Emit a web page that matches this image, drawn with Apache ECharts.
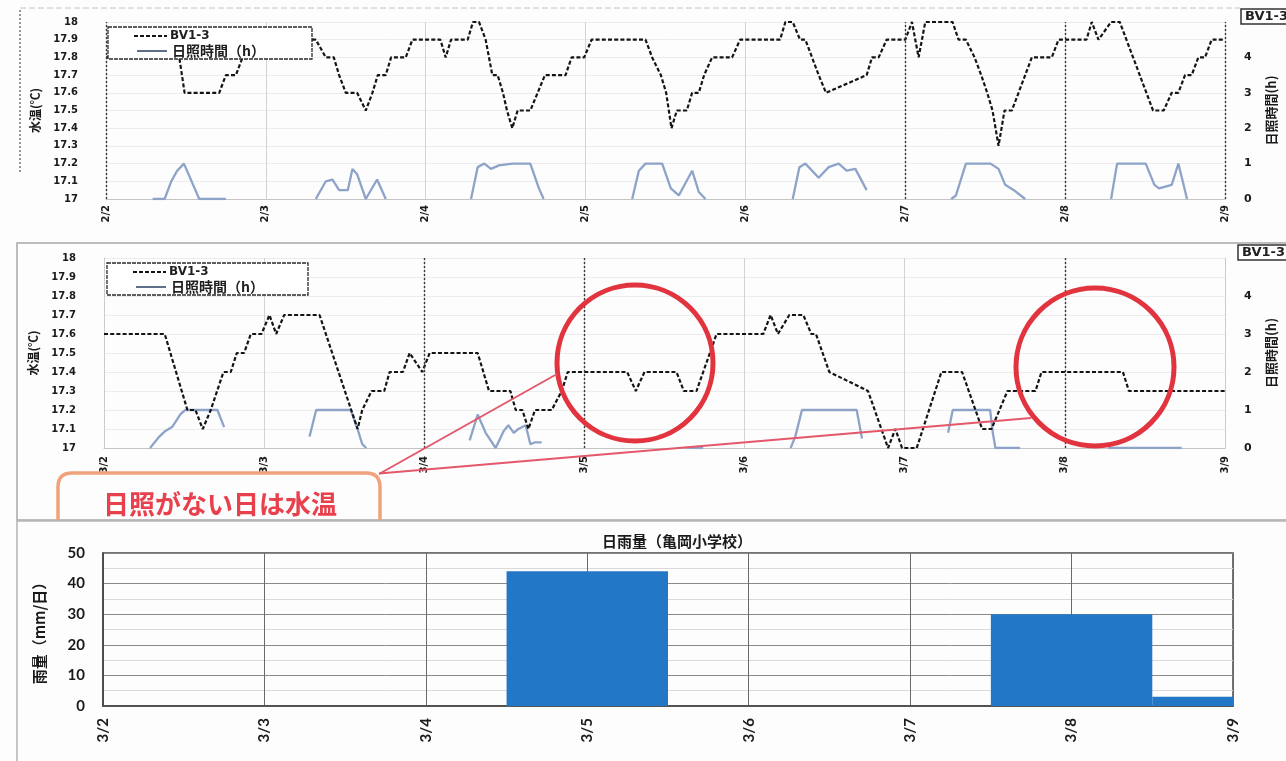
<!DOCTYPE html>
<html>
<head>
<meta charset="utf-8">
<script src="https://cdn.jsdelivr.net/npm/echarts@6/dist/echarts.min.js"></script>
<style>
  html, body { margin: 0; padding: 0; background: #fdfdfd; }
  #chart { width: 1286px; height: 761px; }
</style>
</head>
<body>
<div id="chart"></div>
<script>
// ---- date labels (one per day, ticks every 24 h) ----
const febDates = ['2/2', '2/3', '2/4', '2/5', '2/6', '2/7', '2/8', '2/9'];
const marDates = ['3/2', '3/3', '3/4', '3/5', '3/6', '3/7', '3/8', '3/9'];
const tempTicks = [17, 18, 0.1];      // min, max, step (水温)
const sunTicks = [0, 5, 1];           // min, max, step (日照時間)

// ---- February: water temperature BV1-3 (hours from 2/2 0:00, ℃) ----
const febTempHours = [0, 2, 3, 9, 10, 11, 11.8, 17, 18, 19.5, 20.5, 22, 23, 31.5, 33, 34.2, 35, 36, 37.7, 39,
  40, 40.8, 42, 42.8, 45, 46, 50.2, 51, 51.8, 54.3, 55.1, 56, 57, 58, 58.8, 59.6, 60.2, 61, 61.8, 63.7,
  64.8, 65.9, 69, 69.9, 71.8, 72.9, 81, 82, 83.3, 84.1, 84.9, 85.7, 87.2, 88, 89, 89.8, 91, 94, 95.2, 101.2,
  102, 103.1, 104.2, 105, 106, 107, 108.1, 114.2, 115, 116, 117.2, 120, 121, 122, 123, 127.1, 128, 129.1, 130.4, 131.4,
  132.3, 133.1, 134, 134.9, 136, 137, 138, 139, 142, 143, 147.2, 148, 149, 150.9, 152.2, 153.2, 154.2, 155.2,
  156.2, 157.2, 158.8, 160, 161, 162, 163, 164, 165, 166, 168];
const febTempValues = [17.8, 17.8, 17.9, 17.9, 17.8, 17.8, 17.6, 17.6, 17.7, 17.7, 17.8, 17.8, 17.9, 17.9, 17.8, 17.8, 17.7, 17.6, 17.6, 17.5,
  17.6, 17.7, 17.7, 17.8, 17.8, 17.9, 17.9, 17.8, 17.9, 17.9, 18.0, 18.0, 17.9, 17.7, 17.7, 17.6, 17.5, 17.4, 17.5, 17.5,
  17.6, 17.7, 17.7, 17.8, 17.8, 17.9, 17.9, 17.8, 17.7, 17.6, 17.4, 17.5, 17.5, 17.6, 17.6, 17.7, 17.8, 17.8, 17.9, 17.9,
  18.0, 18.0, 17.9, 17.9, 17.8, 17.7, 17.6, 17.7, 17.8, 17.8, 17.9, 17.9, 18.0, 17.8, 18.0, 18.0, 17.9, 17.9, 17.8, 17.7,
  17.6, 17.5, 17.3, 17.5, 17.5, 17.6, 17.7, 17.8, 17.8, 17.9, 17.9, 18.0, 17.9, 18.0, 18.0, 17.9, 17.8, 17.7,
  17.6, 17.5, 17.5, 17.6, 17.6, 17.7, 17.7, 17.8, 17.8, 17.9, 17.9];

// ---- February: sunshine hours (null = no record, line break) ----
const febSunHours = [7, 8.8, 9.8, 10.7, 11.7, 14, 18, 25,
  31.5, 33, 34, 35, 36.3, 37, 37.7, 39, 40.7, 42, 48,
  54.8, 55.8, 56.8, 57.8, 59, 61, 63.7, 65, 65.7, 72,
  79, 80, 81, 83.5, 84.8, 86, 88, 89, 90, 96,
  103.1, 104.1, 105, 107, 108.5, 110, 111.2, 112.5, 114.2, 120,
  126.9, 127.6, 128.1, 129.1, 132.8, 134, 135, 136.3, 138, 144,
  150.9, 151.8, 156.1, 157.4, 158.1, 160, 161, 162.3];
const febSunValues = [0, 0, 0.5, 0.8, 1.0, 0, 0, null,
  0, 0.5, 0.55, 0.25, 0.25, 0.85, 0.7, 0, 0.55, 0, null,
  0, 0.9, 1.0, 0.85, 0.95, 1.0, 1.0, 0.3, 0, null,
  0, 0.8, 1.0, 1.0, 0.3, 0.1, 0.8, 0.2, 0, null,
  0, 0.9, 1.0, 0.6, 0.9, 1.0, 0.8, 0.85, 0.25, null,
  0, 0.1, 0.4, 1.0, 1.0, 0.85, 0.4, 0.25, 0, null,
  0, 1.0, 1.0, 0.4, 0.3, 0.4, 1.0, 0];

// ---- March: water temperature BV1-3 (hours from 3/2 0:00, ℃) ----
const marTempHours = [0, 9.1, 12.5, 13.7, 14.8, 16, 17.9, 19, 19.9, 21, 22, 23.6, 24.8, 25.8, 27, 32.3, 38, 38.7, 40.1, 42,
  42.8, 44.8, 45.8, 47.7, 48.8, 56, 57.7, 60.9, 61.7, 62.7, 63.6, 64.6, 67.1, 68.6, 69.5, 78.4, 79.7, 81, 85.8, 86.9,
  88.8, 89.8, 90.8, 91.8, 98.8, 99.9, 101, 102.7, 104.8, 106, 106.7, 108.7, 114.5, 117.5, 118.6, 119.6, 121.8, 125.5, 128.6, 131.6,
  133, 135.4, 139.6, 140.5, 152.7, 153.6, 168];
const marTempValues = [17.6, 17.6, 17.2, 17.2, 17.1, 17.2, 17.4, 17.4, 17.5, 17.5, 17.6, 17.6, 17.7, 17.6, 17.7, 17.7, 17.1, 17.2, 17.3, 17.3,
  17.4, 17.4, 17.5, 17.4, 17.5, 17.5, 17.3, 17.3, 17.2, 17.2, 17.1, 17.2, 17.2, 17.3, 17.4, 17.4, 17.3, 17.4, 17.4, 17.3,
  17.3, 17.4, 17.5, 17.6, 17.6, 17.7, 17.6, 17.7, 17.7, 17.6, 17.6, 17.4, 17.3, 17.0, 17.1, 17.0, 17.0, 17.4, 17.4, 17.1,
  17.1, 17.3, 17.3, 17.4, 17.4, 17.3, 17.3];

// ---- March: sunshine hours ----
const marSunHours = [6.9, 8.3, 9.2, 10.2, 11.5, 12.2, 17, 18, 24,
  30.8, 31.8, 37, 38, 38.7, 39.3, 46,
  54.8, 56, 57.2, 58.7, 59.9, 60.6, 61.4, 62.1, 63.2, 63.9, 64.6, 65.6, 76,
  87.3, 89.8, 96,
  102.9, 103.6, 104.6, 112.8, 113.6, 120,
  126.5, 127.2, 132.8, 133.2, 133.6, 137.3, 144,
  150.5, 161.5];
const marSunValues = [0, 0.3, 0.45, 0.55, 0.9, 1.0, 1.0, 0.55, null,
  0.3, 1.0, 1.0, 0.5, 0.1, 0, null,
  0.2, 0.88, 0.4, 0, 0.45, 0.6, 0.4, 0.5, 0.6, 0.1, 0.15, 0.15, null,
  0, 0, null,
  0, 0.3, 1.0, 1.0, 0.25, null,
  0.4, 1.0, 1.0, 0.4, 0, 0, null,
  0, 0];

// ---- daily rainfall, 亀岡小学校 (mm/日) ----
const rainDates = ['3/2', '3/3', '3/4', '3/5', '3/6', '3/7', '3/8', '3/9'];
const rainValues = [0, 0, 0, 44, 0, 0, 30, 3];
const rainTicks = [0, 50, 10];

// ---- helpers ----
const pairs = (hs, vs) => hs.map((h, i) => [h, vs[i] === null ? '-' : vs[i]]);
const TEMP_COLOR = '#141414';
const SUN_COLOR = '#8ea3c8';
const LABEL_FONT = '"DejaVu Sans", sans-serif';
const CJK_FONT = '"Noto Sans CJK JP", sans-serif';
const NOTE_RED = '#e1343f';

function hourAxis(grid, dates, labelMargin) {
  return {
    type: 'value', gridIndex: grid, min: 0, max: 168, interval: 24,
    axisLine: { show: true, lineStyle: { color: '#c4c4c4' } },
    axisTick: { show: false },
    splitLine: { show: true, lineStyle: { color: '#d2d2d2', width: 1 } },
    axisLabel: {
      rotate: 90, margin: labelMargin, color: '#1a1a1a', fontWeight: 'bold', fontSize: 10,
      fontFamily: LABEL_FONT, formatter: v => dates[Math.round(v / 24)]
    }
  };
}
function tempAxis(grid) {
  return {
    type: 'value', gridIndex: grid, position: 'left',
    min: tempTicks[0], max: tempTicks[1], interval: tempTicks[2],
    name: '水温(℃)', nameLocation: 'middle', nameRotate: 90, nameGap: 65,
    nameTextStyle: { fontFamily: CJK_FONT, fontWeight: 'bold', fontSize: 12, color: '#1a1a1a' },
    axisLine: { show: true, lineStyle: { color: '#c8c8c8', type: [2, 2] } },
    axisTick: { show: false },
    splitLine: { show: true, lineStyle: { color: '#ececec' } },
    axisLabel: {
      margin: 28, color: '#1a1a1a', fontWeight: 'bold', fontSize: 10, fontFamily: LABEL_FONT,
      formatter: v => (Math.abs(v - Math.round(v)) < 1e-6 ? String(Math.round(v)) : v.toFixed(1))
    }
  };
}
function sunAxis(grid) {
  return {
    type: 'value', gridIndex: grid, position: 'right',
    min: sunTicks[0], max: sunTicks[1], interval: sunTicks[2],
    name: '日照時間(h)', nameLocation: 'middle', nameRotate: 90, nameGap: 40,
    nameTextStyle: { fontFamily: CJK_FONT, fontWeight: 'bold', fontSize: 13, color: '#1a1a1a' },
    axisLine: { show: true, lineStyle: { color: '#c8c8c8', type: [2, 2] } },
    axisTick: { show: false },
    splitLine: { show: false },
    axisLabel: {
      margin: 19, color: '#1a1a1a', fontWeight: 'bold', fontSize: 11, fontFamily: LABEL_FONT,
      formatter: v => (v >= sunTicks[1] ? '' : String(v))
    }
  };
}
function tempSeries(name, xi, yi, hs, vs, dayLines) {
  return {
    name, type: 'line', xAxisIndex: xi, yAxisIndex: yi, data: pairs(hs, vs),
    symbol: 'none', z: 4, animation: false,
    lineStyle: { color: TEMP_COLOR, width: 2.2, type: [4, 2.2] },
    markLine: {
      silent: true, symbol: 'none', label: { show: false },
      lineStyle: { color: '#3a3a3a', width: 1.4, type: [2, 2] },
      data: dayLines.map(h => ({ xAxis: h }))
    }
  };
}
function sunSeries(name, xi, yi, hs, vs) {
  return {
    name, type: 'line', xAxisIndex: xi, yAxisIndex: yi, data: pairs(hs, vs),
    symbol: 'none', z: 3, animation: false, connectNulls: false,
    lineStyle: { color: SUN_COLOR, width: 2.3 }
  };
}
function legendBox(x, y, w, h) {
  return {
    type: 'group', x, y, z: 50, children: [
      { type: 'rect', shape: { x: 0, y: 0, width: w, height: h }, style: { fill: '#ffffff', stroke: '#2a2a2a', lineWidth: 1.3, lineDash: [4, 1] }, z: 50 },
      { type: 'line', shape: { x1: 26, y1: 9, x2: 59, y2: 9 }, style: { stroke: TEMP_COLOR, lineWidth: 2, lineDash: [4, 2] }, z: 51 },
      { type: 'text', x: 62, y: 9, style: { text: 'BV1-3', font: 'bold 12px ' + LABEL_FONT, fill: '#1f1f1f', verticalAlign: 'middle' }, z: 51 },
      { type: 'line', shape: { x1: 29, y1: 24, x2: 59, y2: 24 }, style: { stroke: '#5f6f8a', lineWidth: 2 }, z: 51 },
      { type: 'text', x: 64, y: 24, style: { text: '日照時間（h）', font: 'bold 14px ' + CJK_FONT, fill: '#1f1f1f', verticalAlign: 'middle' }, z: 51 }
    ]
  };
}
function cutBox(x, y) {
  return {
    type: 'group', x, y, z: 50, children: [
      { type: 'rect', shape: { x: 0, y: 0, width: 70, height: 15 }, style: { fill: '#ffffff', stroke: '#333', lineWidth: 1.5 }, z: 50 },
      { type: 'text', x: 4, y: 8, style: { text: 'BV1-3', font: 'bold 13px ' + LABEL_FONT, fill: '#1f1f1f', verticalAlign: 'middle' }, z: 51 }
    ]
  };
}
// open-bottom rounded callout frame (its lower part sits under the rainfall panel)
function calloutFrame(x0, y0, x1, yBottom, r) {
  const st = { stroke: '#f0a27a', lineWidth: 3.5, fill: 'none' };
  return {
    type: 'group', z: 60, children: [
      { type: 'line', shape: { x1: x0, y1: y0 + r, x2: x0, y2: yBottom }, style: st, z: 60 },
      { type: 'line', shape: { x1: x0 + r, y1: y0, x2: x1 - r, y2: y0 }, style: st, z: 60 },
      { type: 'line', shape: { x1: x1, y1: y0 + r, x2: x1, y2: yBottom }, style: st, z: 60 },
      { type: 'bezierCurve', shape: { x1: x0, y1: y0 + r, x2: x0 + r, y2: y0, cpx1: x0, cpy1: y0 }, style: st, z: 60 },
      { type: 'bezierCurve', shape: { x1: x1 - r, y1: y0, x2: x1, y2: y0 + r, cpx1: x1, cpy1: y0 }, style: st, z: 60 }
    ]
  };
}

const chart = echarts.init(document.getElementById('chart'), null, { renderer: 'canvas' });

const option = {
  backgroundColor: '#fdfdfd',
  animation: false,
  title: {
    text: '日雨量（亀岡小学校）', left: 597, top: 529,
    textStyle: { fontFamily: CJK_FONT, fontWeight: 'bold', fontSize: 15, color: '#1a1a1a' }
  },
  grid: [
    { left: 106, right: 49, top: 22, height: 177, show: false },
    { left: 104, right: 49, top: 258, height: 190, show: false },
    { left: 103, right: 53, top: 553, height: 153, show: true, borderColor: '#454545', borderWidth: 1.5, backgroundColor: 'transparent' }
  ],
  xAxis: [
    hourAxis(0, febDates, 6),
    hourAxis(1, marDates, 8),
    {
      type: 'value', gridIndex: 2, min: 0, max: rainDates.length - 1, interval: 1,
      axisLine: { show: true, lineStyle: { color: '#454545', width: 1.5 } },
      axisTick: { show: false },
      splitLine: { show: true, lineStyle: { color: '#6a6a6a', width: 1 } },
      axisLabel: {
        rotate: 90, margin: 12, color: '#1a1a1a', fontWeight: 'bold', fontSize: 15, fontFamily: 'Lato, sans-serif',
        formatter: v => rainDates[Math.round(v)]
      }
    }
  ],
  yAxis: [
    tempAxis(0), sunAxis(0), tempAxis(1), sunAxis(1),
    {
      type: 'value', gridIndex: 2, min: rainTicks[0], max: rainTicks[1], interval: rainTicks[2],
      name: '雨量（mm/日）', nameLocation: 'middle', nameRotate: 90, nameGap: 56,
      nameTextStyle: { fontFamily: CJK_FONT, fontWeight: 'bold', fontSize: 15, color: '#1a1a1a' },
      axisLine: { show: true, lineStyle: { color: '#454545', width: 1.5 } },
      axisTick: { show: false },
      minorTick: { show: false, splitNumber: 2 },
      splitLine: { show: true, lineStyle: { color: '#8a8a8a', width: 1 } },
      minorSplitLine: { show: true, lineStyle: { color: '#dadada', width: 1 } },
      axisLabel: { margin: 18, color: '#1a1a1a', fontWeight: 'bold', fontSize: 15, fontFamily: 'Lato, sans-serif' }
    }
  ],
  series: [
    tempSeries('BV1-3', 0, 0, febTempHours, febTempValues, [0, 120, 144, 168]),
    sunSeries('日照時間(h)', 0, 1, febSunHours, febSunValues),
    tempSeries('BV1-3', 1, 2, marTempHours, marTempValues, [48, 72, 144]),
    sunSeries('日照時間(h)', 1, 3, marSunHours, marSunValues),
    {
      name: '日雨量', type: 'custom', xAxisIndex: 2, yAxisIndex: 4, z: 3,
      data: rainValues.map((v, i) => [i, v]),
      renderItem: (params, api) => {
        const x = api.value(0), v = api.value(1);
        if (!v) return null;
        const p0 = api.coord([x - 0.5, v]);
        const p1 = api.coord([x + 0.5, 0]);
        const cs = params.coordSys;
        const left = Math.max(p0[0], cs.x), right = Math.min(p1[0], cs.x + cs.width);
        return {
          type: 'rect',
          shape: { x: left, y: p0[1], width: right - left, height: p1[1] - p0[1] },
          style: { fill: '#2278c6' }
        };
      }
    }
  ],
  graphic: [
    // panel frames
    { type: 'line', shape: { x1: 20, y1: 8, x2: 1240, y2: 8 }, style: { stroke: '#c4c4c4', lineWidth: 1, lineDash: [6, 3] }, z: 1 },
    { type: 'line', shape: { x1: 20, y1: 10, x2: 20, y2: 172 }, style: { stroke: '#555', lineWidth: 1.2, lineDash: [2, 2] }, z: 1 },
    { type: 'rect', shape: { x: 17, y: 243, width: 1290, height: 277 }, style: { fill: 'none', stroke: '#a8a8a8', lineWidth: 1.5 }, z: 1 },
    { type: 'rect', shape: { x: 17, y: 521, width: 1290, height: 260 }, style: { fill: 'none', stroke: '#b4b4b4', lineWidth: 1.5 }, z: 1 },
    // legends
    legendBox(108, 27, 204, 32),
    legendBox(107, 263, 201, 32),
    cutBox(1241, 9),
    cutBox(1238, 245),
    // annotation: highlighted days and callout
    { type: 'circle', shape: { cx: 635, cy: 363, r: 78 }, style: { fill: 'none', stroke: NOTE_RED, lineWidth: 5 }, z: 60 },
    { type: 'circle', shape: { cx: 1095, cy: 367, r: 79 }, style: { fill: 'none', stroke: NOTE_RED, lineWidth: 5 }, z: 60 },
    { type: 'line', shape: { x1: 379, y1: 474, x2: 557, y2: 374 }, style: { stroke: '#e3586a', lineWidth: 2 }, z: 60 },
    { type: 'line', shape: { x1: 379, y1: 473.5, x2: 1031, y2: 418 }, style: { stroke: '#e3586a', lineWidth: 2 }, z: 60 },
    calloutFrame(58, 473, 380, 520, 14),
    { type: 'text', x: 220, y: 504, style: { text: '日照がない日は水温', font: 'bold 26px ' + CJK_FONT, fill: '#e8404c', align: 'center', verticalAlign: 'middle' }, z: 61 }
  ]
};

chart.setOption(option);
</script>
</body>
</html>
